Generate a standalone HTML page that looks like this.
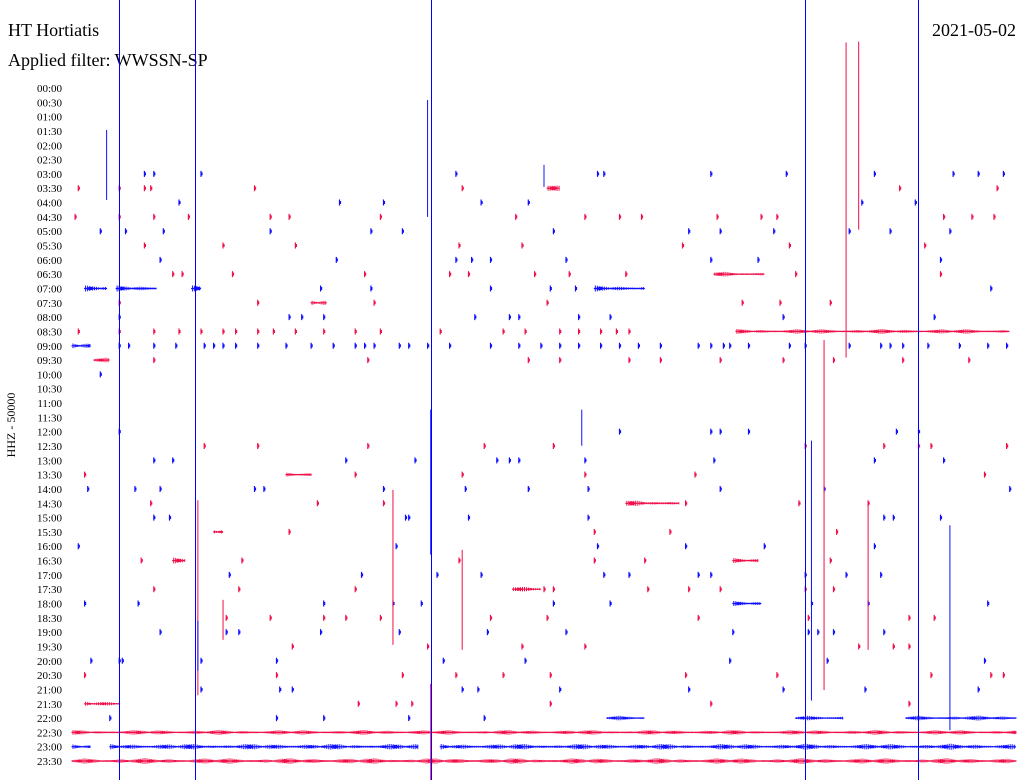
<!DOCTYPE html>
<html><head><meta charset="utf-8"><style>
html,body{margin:0;padding:0;background:#fff;overflow:hidden;width:1024px;height:780px;}
svg{position:absolute;left:0;top:0;display:block;font-family:"Liberation Serif",serif;}
</style></head><body>
<svg id="heli" width="1024" height="780" viewBox="0 0 1024 780">
<text x="8" y="36" font-size="18">HT Hortiatis</text>
<text x="1016" y="36" font-size="18" text-anchor="end">2021-05-02</text>
<text x="8" y="66" font-size="18">Applied filter: WWSSN-SP</text>
<text transform="translate(15,425) rotate(-90)" font-size="12" text-anchor="middle">HHZ - 50000</text>
<g id="labels"></g><g id="traces"></g><g id="markers"></g>
</svg>
<script>
// chart data
const rowLabels = [];
for (let h = 0; h < 24; h++) { const hh = String(h).padStart(2,'0'); rowLabels.push(hh+':00', hh+':30'); }
const markerMinutes = [1.5, 3.9, 11.4, 23.3, 26.9];
// spikes: [row, minute, upAmplitude, downAmplitude]
const spikes = [[6,1.1,44,26],[6,11.3,74,43],[24,11.4,22,123],[17,24.6,289,26],[5,25,118,70],[19,23.9,20,330],
 [30,23.5,77,183],[32,27.9,21,184],[35,4,89,106],[37,10.2,128,27],[37,12.4,68,32],[37,25.3,113,32],
 [24,16.2,22,14],[6,15,9,13],[37,4.8,18,22],[43,11.4,20,140],[40,4,40,10]];
// segments: [row, startMinute, endMinute, amplitude]
const segments = [[45,0,30,2.5],[46,0,0.6,2.5],[46,1.2,11,3],[46,11.7,30,3],[47,0,30,3],
 [44,17,18.2,2.5],[44,23,24.5,2.5],[44,26.5,30,2.5],[17,21.1,29.8,2.5],[18,0,0.6,3],
 [14,0.4,1.1,3],[14,1.4,2.7,3],[14,3.8,4.1,3],[14,16.6,18.2,3],[13,20.4,22,2.5],[29,17.6,19.3,3],
 [36,21,21.9,2.5],[33,21,21.8,2.5],[35,14,14.9,2.5],[15,7.6,8.1,3],[43,0.4,1.5,2.5],[19,0.7,1.2,2.5],
 [27,6.8,7.6,2],[33,3.2,3.6,3],[31,4.5,4.8,3],[7,15.1,15.5,3]];
// blips: [row, minute]
const blips = [
[6,2.3],[6,2.6],[6,4.1],[6,12.2],[6,16.7],[6,16.9],[6,20.3],[6,22.7],[6,25.5],[6,28],[6,28.8],[6,29.6],
[7,0.2],[7,1.5],[7,2.3],[7,2.5],[7,5.8],[7,12.4],[7,26.3],[7,29.4],
[8,3.4],[8,8.5],[8,9.9],[8,13],[8,14.5],[8,25.1],[8,26.8],
[9,0.1],[9,1.5],[9,2.6],[9,3.7],[9,6.3],[9,6.9],[9,9.8],[9,14.1],[9,16.3],[9,17.4],[9,18.1],[9,20.5],[9,21.9],[9,22.4],[9,27.7],[9,28.6],[9,29.3],
[10,0.9],[10,1.7],[10,2.9],[10,6.3],[10,9.5],[10,10.5],[10,15.3],[10,19.6],[10,20.6],[10,22.3],[10,24.7],[10,26],[10,27.9],
[11,2.3],[11,4.8],[11,7.1],[11,12.3],[11,14.3],[11,19.4],[11,22.8],[11,27.1],
[12,2.8],[12,8.4],[12,12.2],[12,12.7],[12,13.3],[12,15.7],[12,20.3],[12,21.8],[12,27.6],
[13,3.2],[13,3.5],[13,5.1],[13,9.3],[13,12],[13,12.6],[13,14.7],[13,15.8],[13,17.6],[13,23],[13,27.6],
[14,7.9],[14,9.5],[14,13.3],[14,15.2],[14,16],[14,29.2],
[15,1.5],[15,5.9],[15,9.6],[15,15.1],[15,21.3],[15,22.5],[15,24.1],
[16,1.5],[16,6.9],[16,7.3],[16,8],[16,12.8],[16,13.9],[16,14.2],[16,16.1],[16,17.1],[16,22.6],[16,27.4],
[17,0.2],[17,1.5],[17,2.6],[17,3.4],[17,4.1],[17,4.8],[17,5.2],[17,5.9],[17,6.4],[17,7.1],[17,8],[17,9],[17,9.8],[17,11.7],[17,13.7],[17,14.4],[17,15.5],[17,16.1],[17,16.8],[17,17.3],[17,17.7],
[18,1.5],[18,1.8],[18,2.6],[18,3.3],[18,4.2],[18,4.5],[18,4.8],[18,5.2],[18,5.9],[18,6.8],[18,7.6],[18,8.3],[18,9],[18,9.3],[18,9.6],[18,10.4],[18,10.7],[18,11.3],[18,12],[18,13.3],[18,14.2],[18,14.9],[18,15.5],[18,16.1],[18,16.8],[18,17.4],[18,18],[18,18.7],[18,19.9],[18,20.3],[18,20.7],[18,20.9],[18,21.5],[18,22.8],[18,23.3],[18,24.7],[18,25.7],[18,26],[18,26.4],[18,27.2],[18,28.2],[18,29.1],[18,29.7],
[19,2.6],[19,9.4],[19,14.5],[19,15.5],[19,17.7],[19,18.7],[19,20.6],[19,22.6],[19,24.2],[19,26.4],[19,28.5],
[20,0.9],
[24,1.5],[24,17.4],[24,20.3],[24,20.6],[24,21.5],[24,26.2],[24,26.9],
[25,4.2],[25,5.9],[25,9.4],[25,13.1],[25,15.3],[25,23.3],[25,25.8],[25,26.9],[25,27.3],[25,29.7],
[26,2.6],[26,3.2],[26,8.7],[26,10.9],[26,13.5],[26,13.9],[26,14.2],[26,16.3],[26,20.4],[26,25.5],[26,27.7],
[27,0.4],[27,9],[27,12.4],[27,16.3],[27,19.8],[27,29],
[28,0.5],[28,2],[28,2.8],[28,5.8],[28,6.1],[28,9.9],[28,12.5],[28,14.5],[28,16.4],[28,20.6],[28,23.9],[28,29.8],
[29,2.5],[29,7.8],[29,9.9],[29,19.5],[29,23.1],[29,25.3],
[30,2.6],[30,3.1],[30,10.6],[30,10.7],[30,12.6],[30,16.4],[30,25.8],[30,26.1],[30,27.6],
[31,6.9],[31,16.6],[31,19],[31,24.3],
[32,0.2],[32,10.3],[32,16.7],[32,19.5],[32,22],[32,25.5],
[33,2.2],[33,5.4],[33,12.3],[33,16.6],[33,18.2],[33,24.1],
[34,5],[34,9.2],[34,11.6],[34,13],[34,16.9],[34,17.7],[34,19.9],[34,20.3],[34,23.3],[34,24.6],[34,25.7],
[35,2.6],[35,5.3],[35,9],[35,15],[35,15.3],[35,18.3],[35,19.6],[35,20.6],[35,23.3],[35,24.2],
[36,0.4],[36,2.1],[36,8],[36,10.2],[36,11.1],[36,15.3],[36,17.1],[36,23.5],[36,25.3],[36,29.1],
[37,4.9],[37,6.3],[37,8],[37,8.7],[37,9.8],[37,13.3],[37,15.1],[37,19.9],[37,23.4],[37,26.6],[37,27.4],
[38,2.8],[38,4.9],[38,5.3],[38,7.9],[38,10.4],[38,13.2],[38,15.7],[38,21],[38,23.4],[38,23.7],[38,24.2],[38,25.8],
[39,7],[39,11.3],[39,14.3],[39,16.3],[39,25],[39,26.1],[39,26.6],
[40,0.6],[40,1.5],[40,1.6],[40,4.1],[40,6.5],[40,11.8],[40,14.4],[40,20.9],[40,24],[40,29],
[41,0.4],[41,6.5],[41,10.5],[41,12.2],[41,13.7],[41,15.2],[41,19.5],[41,22.4],[41,27.3],[41,29.2],[41,29.6],
[42,4.1],[42,6.6],[42,7],[42,12.4],[42,12.9],[42,15.5],[42,19.6],[42,22.6],[42,25.2],[42,28.8],
[43,9.1],[43,10.3],[43,10.8],[43,15.2],[43,20.3],[43,26.6],
[44,1.2],[44,6.5],[44,8],[44,10.7],[44,13.1]];
</script>
<script>
const NS='http://www.w3.org/2000/svg';
const X0=72, X1=1016, Y0=88, DY=14.32;
const xOf=m=>X0+(X1-X0)*m/30;
const yOf=r=>Y0+r*DY;
const colOf=r=>r%2===0?'#1010ff':'#f0104a';
const lab=document.getElementById('labels'), tr=document.getElementById('traces'), mk=document.getElementById('markers');
rowLabels.forEach((t,i)=>{
  const e=document.createElementNS(NS,'text');
  e.setAttribute('x',62);e.setAttribute('y',yOf(i)+4);e.setAttribute('font-size','11');e.setAttribute('text-anchor','end');
  e.textContent=t;
  
  
  lab.appendChild(e);
});
function wig(r,a,b,amp){
  const x0=xOf(a),x1=xOf(b),y=yOf(r);let d='';
  for(let x=x0,k=0;x<=x1+0.01;x+=1,k++){
    const env=Math.abs(Math.sin(k*0.11+r))*Math.abs(Math.cos(k*0.043));
    const v=Math.max(0.6,amp*(0.3+0.7*env)*Math.abs(Math.sin(k*1.7)));
    d+='M'+x.toFixed(1)+' '+(y-v).toFixed(1)+'V'+(y+v).toFixed(1);
  }
  const p=document.createElementNS(NS,'path');
  p.setAttribute('d',d);p.setAttribute('fill','none');p.setAttribute('stroke',colOf(r));p.setAttribute('stroke-width','1');
  return p;
}
segments.forEach(s=>{const p=wig(s[0],s[1],s[2],s[3]);
  
  
  tr.appendChild(p);});
blips.forEach(b=>{
  const x=xOf(b[1]),y=yOf(b[0]);
  const p=document.createElementNS(NS,'path');
  p.setAttribute('d','M'+x.toFixed(1)+' '+(y-3)+'V'+(y+3)+'M'+(x+1).toFixed(1)+' '+(y-1.5)+'V'+(y+1.5));
  p.setAttribute('stroke',colOf(b[0]));p.setAttribute('stroke-width','1.2');
  
  
  tr.appendChild(p);});
spikes.forEach(s=>{
  const l=document.createElementNS(NS,'line');const x=xOf(s[1]),y=yOf(s[0]);
  l.setAttribute('x1',x);l.setAttribute('x2',x);l.setAttribute('y1',y-s[2]);l.setAttribute('y2',y+s[3]);
  l.setAttribute('stroke',colOf(s[0]));l.setAttribute('stroke-width','1');
  
  
  tr.appendChild(l);
});
markerMinutes.forEach(m=>{
  const l=document.createElementNS(NS,'rect');const x=Math.round(xOf(m));
  l.setAttribute('x',x);l.setAttribute('y',0);l.setAttribute('width',1);l.setAttribute('height',780);
  l.setAttribute('fill','#0000ff');l.setAttribute('shape-rendering','crispEdges');
  
  
  mk.appendChild(l);
});
</script>
</body></html>
